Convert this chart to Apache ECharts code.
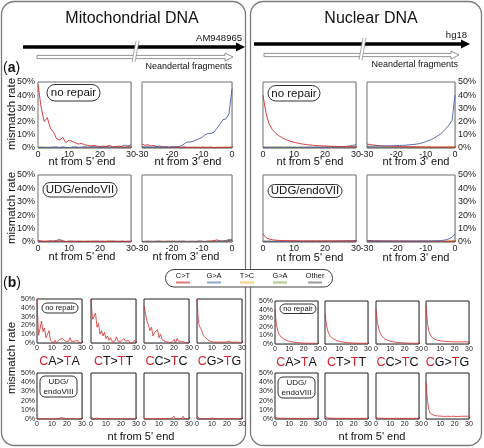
<!DOCTYPE html>
<html><head><meta charset="utf-8">
<script src="https://cdn.jsdelivr.net/npm/echarts@6/dist/echarts.min.js"></script>
<style>html,body{margin:0;padding:0;background:#fff}#c{width:484px;height:448px}</style>
</head><body><div id="c"></div>
<script>
// ---------- x positions ----------
const nt5 = [0,1,2,3,4,5,6,7,8,9,10,11,12,13,14,15,16,17,18,19,20,21,22,23,24,25,26,27,28,29,30];
const nt3 = [-30,-29,-28,-27,-26,-25,-24,-23,-22,-21,-20,-19,-18,-17,-16,-15,-14,-13,-12,-11,-10,-9,-8,-7,-6,-5,-4,-3,-2,-1,0];
const xTicksA5 = [0,10,20,30];
const xTicksA3 = [-30,-20,-10,0];
const yTicks = ['0%','10%','20%','30%','40%','50%'];
const legendNames = ['C>T','G>A','T>C','G>A','Other'];
const contexts = [['C','A','T','A'],['C','T','T','T'],['C','C','T','C'],['C','G','T','G']];

// ---------- panel (a): mitochondrial, no repair ----------
const mtNR5_CT = [48,31,20,23,15,12,7,6,8,4,6,5,4,3,3.5,2.5,2,1.5,2,1.5,1,1.5,1,2,1,1,1.5,1,0.5,1,1];
const mtNR5_GA = [0.4,0.6,0.5,0.3,0.6,0.8,0.4,0.5,0.7,0.4,0.3,0.6,0.9,0.5,0.6,1,0.5,0.8,1.2,0.6,0.5,0.8,1.4,1,0.5,1,0.8,1.2,2.2,1.5,2.5];
const mtNR5_TC = [0.8,0.5,0.3,0.6,0.4,0.2,0.5,0.3,0.6,0.4,0.3,0.2,0.5,0.3,0.4,0.6,0.3,0.5,0.2,0.4,0.6,0.3,0.5,0.4,0.2,0.5,0.3,0.6,0.4,0.3,0.5];
const mtNR5_AG = [0.5,0.3,0.6,0.4,0.2,0.5,0.7,0.3,0.4,0.6,0.3,0.5,0.2,0.4,0.3,0.5,0.6,0.3,0.4,0.2,0.5,0.3,0.6,0.4,0.3,0.5,0.4,0.3,0.6,0.4,0.3];
const mtNR5_OT = [0.3,0.4,0.2,0.5,0.3,0.4,0.6,0.3,0.5,0.2,0.4,0.3,0.5,0.4,0.2,0.3,0.5,0.4,0.3,0.6,0.4,0.3,0.5,0.2,0.4,0.6,0.3,0.4,0.3,0.5,0.4];
const mtNR3_CT = [3,2,2.5,1.5,2,1,1.5,0.8,1,0.5,0.8,0.5,0.6,0.5,0.8,0.5,0.4,0.6,0.5,0.4,0.5,0.6,0.4,0.5,0.3,0.5,0.4,0.3,0.5,0.4,0.5];
const mtNR3_GA = [1,0.8,1,0.5,0.8,1,0.6,0.8,1,0.5,1,0.8,1.2,1.5,3,4.5,4.5,5,6,7,8,10,11,11,12,15,18,21.5,22,26,45];
const mtNR3_TC = [0.4,0.6,0.3,0.5,0.4,0.2,0.5,0.6,0.3,0.4,0.5,0.3,0.6,0.4,0.2,0.5,0.3,0.4,0.6,0.3,0.5,0.4,0.3,0.6,0.4,0.5,0.3,0.4,0.6,0.5,0.8];
const mtNR3_AG = [0.3,0.5,0.4,0.2,0.6,0.4,0.3,0.5,0.4,0.6,0.3,0.5,0.2,0.4,0.6,0.3,0.5,0.4,0.3,0.5,0.6,0.4,0.3,0.5,0.4,0.3,0.5,0.6,0.4,0.3,0.5];
const mtNR3_OT = [0.5,0.3,0.4,0.6,0.3,0.5,0.4,0.2,0.5,0.3,0.4,0.6,0.4,0.3,0.5,0.4,0.6,0.3,0.4,0.5,0.3,0.4,0.6,0.5,0.3,0.4,0.5,0.3,0.6,0.4,0.7];
// ---------- panel (a): mitochondrial, UDG/endoVII ----------
const mtUDG5_CT = [1.2,0.8,0.6,0.5,0.8,0.6,0.5,0.7,0.5,0.4,0.6,0.5,0.4,0.6,0.5,0.4,0.5,0.6,0.4,0.5,0.4,0.6,0.5,0.4,0.5,0.4,0.6,0.4,0.5,0.4,0.5];
const mtUDG5_GA = [0.4,0.5,0.3,0.4,0.6,0.4,0.5,0.8,0.4,0.3,0.5,0.4,0.6,0.3,0.4,0.5,0.3,0.4,0.5,0.6,0.4,0.3,0.5,0.4,0.6,0.5,0.4,0.5,0.3,0.6,0.5];
const mtUDG5_TC = [0.6,0.3,0.5,0.8,0.4,0.3,0.6,0.4,0.9,0.3,0.5,0.4,0.3,0.6,0.5,0.3,0.8,0.4,0.5,0.3,0.6,0.4,0.3,0.9,0.5,0.4,0.3,0.6,0.4,0.3,0.5];
const mtUDG5_AG = [0.3,0.5,0.4,0.3,0.5,0.6,0.3,0.4,0.5,0.3,0.4,0.6,0.3,0.5,0.4,0.3,0.5,0.4,0.6,0.3,0.4,0.5,0.3,0.4,0.5,0.6,0.3,0.4,0.5,0.3,0.4];
const mtUDG5_OT = [0.3,0.4,0.3,0.5,0.4,0.6,1.2,2,0.8,0.4,0.3,0.5,0.4,0.3,0.4,0.5,0.3,0.4,0.3,0.5,0.4,0.3,0.4,0.5,0.3,0.4,0.3,0.5,0.4,0.3,0.4];
const mtUDG3_CT = [0.5,0.4,0.6,0.5,0.4,0.5,0.6,0.4,0.5,0.4,0.6,0.5,0.4,0.5,0.6,0.4,0.5,0.4,0.5,0.6,0.5,0.4,0.6,0.8,1,1.6,0.8,0.5,0.6,0.8,1];
const mtUDG3_GA = [0.4,0.5,0.3,0.5,0.4,0.6,0.4,0.3,0.5,0.4,0.5,0.3,0.4,0.6,0.5,0.4,0.3,0.5,0.4,0.6,0.5,0.4,0.5,0.3,0.4,0.5,0.6,0.5,0.8,1,1.4];
const mtUDG3_TC = [0.4,0.3,0.6,0.4,0.3,0.5,0.4,0.7,0.3,0.5,0.4,0.3,0.6,0.4,0.5,0.3,0.4,0.6,0.3,0.5,0.4,0.3,0.5,0.6,0.4,0.3,0.5,0.4,0.3,0.5,0.4];
const mtUDG3_AG = [0.3,0.4,0.5,0.3,0.4,0.3,0.5,0.4,0.3,0.5,0.4,0.6,0.3,0.4,0.3,0.5,0.4,0.3,0.5,0.4,0.3,0.4,0.5,0.3,0.4,0.5,0.3,0.4,0.5,0.4,0.3];
const mtUDG3_OT = [0.3,0.4,0.3,0.4,0.5,0.3,0.4,0.3,0.5,0.4,0.3,0.4,0.5,0.3,0.4,0.3,0.5,0.4,0.3,0.4,0.5,0.3,0.4,0.3,0.5,0.4,0.6,0.8,1.2,1.8,2];
// ---------- panel (a): nuclear, no repair ----------
const nuNR5_CT = [40,26,18,14,11.5,9.5,8,6.8,5.8,5,4.3,3.8,3.3,2.9,2.6,2.3,2.1,1.9,1.7,1.6,1.5,1.4,1.3,1.2,1.2,1.1,1.1,1,1,1,1];
const nuNR5_GA = [0.6,0.5,0.6,0.6,0.5,0.6,0.6,0.5,0.6,0.6,0.6,0.5,0.6,0.6,0.6,0.7,0.6,0.7,0.7,0.7,0.8,0.7,0.8,0.9,0.9,1,1.1,1.3,1.6,2,2.6];
const nuNR5_TC = [0.7,0.6,0.6,0.6,0.6,0.5,0.6,0.6,0.5,0.6,0.6,0.5,0.6,0.5,0.6,0.6,0.5,0.6,0.5,0.6,0.5,0.6,0.5,0.6,0.5,0.6,0.5,0.6,0.5,0.6,0.6];
const nuNR5_AG = [0.5,0.5,0.4,0.5,0.5,0.4,0.5,0.4,0.5,0.5,0.4,0.5,0.4,0.5,0.4,0.5,0.4,0.5,0.4,0.5,0.4,0.5,0.4,0.5,0.4,0.5,0.4,0.5,0.4,0.5,0.5];
const nuNR5_OT = [0.4,0.3,0.4,0.3,0.4,0.3,0.4,0.3,0.4,0.3,0.4,0.3,0.4,0.3,0.4,0.3,0.4,0.3,0.4,0.3,0.4,0.3,0.4,0.3,0.4,0.3,0.4,0.3,0.4,0.3,0.4];
const nuNR3_CT = [3,2.6,2.3,2,1.8,1.6,1.5,1.4,1.3,1.2,1.1,1.1,1,1,1,0.9,0.9,0.9,0.8,0.8,0.8,0.8,0.8,0.7,0.7,0.7,0.7,0.7,0.6,0.6,0.6];
const nuNR3_GA = [1.3,1.3,1.4,1.4,1.4,1.5,1.5,1.6,1.6,1.7,1.8,1.9,2,2.1,2.3,2.5,2.7,3,3.4,4,4.8,5.6,6.5,7.7,9,10.5,12.5,15,17.5,21,40];
const nuNR3_TC = [0.7,0.7,0.6,0.7,0.6,0.7,0.6,0.7,0.6,0.7,0.6,0.7,0.6,0.7,0.6,0.7,0.6,0.7,0.6,0.7,0.6,0.7,0.6,0.7,0.6,0.7,0.7,0.8,0.8,0.9,1];
const nuNR3_AG = [0.5,0.4,0.5,0.4,0.5,0.4,0.5,0.4,0.5,0.4,0.5,0.4,0.5,0.4,0.5,0.4,0.5,0.4,0.5,0.4,0.5,0.4,0.5,0.4,0.5,0.4,0.5,0.4,0.5,0.5,0.6];
const nuNR3_OT = [0.3,0.4,0.3,0.4,0.3,0.4,0.3,0.4,0.3,0.4,0.3,0.4,0.3,0.4,0.3,0.4,0.3,0.4,0.3,0.4,0.3,0.4,0.3,0.4,0.3,0.4,0.3,0.4,0.4,0.4,0.5];
// ---------- panel (a): nuclear, UDG/endoVII ----------
const nuUDG5_CT = [6,3.2,2.2,1.7,1.4,1.2,1.1,1,1,0.9,0.9,0.9,0.8,0.8,0.8,0.8,0.8,0.8,0.8,0.8,0.8,0.8,0.8,0.8,0.8,0.8,0.8,0.8,0.8,0.8,0.8];
const nuUDG5_GA = [0.6,0.5,0.6,0.5,0.6,0.5,0.6,0.5,0.6,0.5,0.6,0.5,0.6,0.5,0.6,0.5,0.6,0.5,0.6,0.5,0.6,0.6,0.6,0.6,0.7,0.7,0.7,0.8,0.8,0.9,1];
const nuUDG5_TC = [0.8,0.7,0.6,0.6,0.6,0.5,0.6,0.5,0.6,0.5,0.6,0.5,0.6,0.5,0.6,0.5,0.6,0.5,0.6,0.5,0.6,0.5,0.6,0.5,0.6,0.5,0.6,0.5,0.6,0.5,0.6];
const nuUDG5_AG = [0.5,0.4,0.5,0.4,0.5,0.4,0.5,0.4,0.5,0.4,0.5,0.4,0.5,0.4,0.5,0.4,0.5,0.4,0.5,0.4,0.5,0.4,0.5,0.4,0.5,0.4,0.5,0.4,0.5,0.4,0.5];
const nuUDG5_OT = [0.3,0.4,0.3,0.4,0.3,0.4,0.3,0.4,0.3,0.4,0.3,0.4,0.3,0.4,0.3,0.4,0.3,0.4,0.3,0.4,0.3,0.4,0.3,0.4,0.3,0.4,0.3,0.4,0.3,0.4,0.3];
const nuUDG3_CT = [1.2,1.1,1,0.9,0.9,0.8,0.8,0.8,0.7,0.7,0.7,0.7,0.7,0.7,0.6,0.6,0.6,0.6,0.6,0.6,0.6,0.6,0.6,0.6,0.6,0.6,0.6,0.6,0.6,0.6,0.6];
const nuUDG3_GA = [0.7,0.7,0.7,0.7,0.7,0.7,0.7,0.7,0.7,0.7,0.7,0.7,0.7,0.7,0.7,0.7,0.7,0.7,0.7,0.8,0.8,0.8,0.8,0.9,0.9,1,1.3,1.7,2.4,3.5,6];
const nuUDG3_TC = [0.6,0.5,0.6,0.5,0.6,0.5,0.6,0.5,0.6,0.5,0.6,0.5,0.6,0.5,0.6,0.5,0.6,0.5,0.6,0.5,0.6,0.5,0.6,0.5,0.6,0.5,0.6,0.6,0.7,0.8,0.9];
const nuUDG3_AG = [0.5,0.4,0.5,0.4,0.5,0.4,0.5,0.4,0.5,0.4,0.5,0.4,0.5,0.4,0.5,0.4,0.5,0.4,0.5,0.4,0.5,0.4,0.5,0.4,0.5,0.4,0.5,0.4,0.5,0.5,0.6];
const nuUDG3_OT = [0.3,0.4,0.3,0.4,0.3,0.4,0.3,0.4,0.3,0.4,0.3,0.4,0.3,0.4,0.3,0.4,0.3,0.4,0.3,0.4,0.3,0.4,0.3,0.4,0.3,0.4,0.3,0.4,0.3,0.4,0.4];

// ---------- panel (b): C>T by context, 5' end ----------
const bmtNR_CA = [50,9,16,25,13,17,6,8,14,3,5,0,3,0,2,4,2,5,3,2,4,2,6,2,0,2,0,3,0,2,0];
const bmtNR_CT = [50,27,30,34,18,22,10,14,8,12,5,8,3,6,2,4,2,7,2,4,2,0,5,2,0,3,0,2,0,3,0];
const bmtNR_CC = [42,33,25,20,14,18,8,12,10,15,6,10,4,6,2,4,1,3,0,2,4,0,5,2,0,2,0,1,0,0,0];
const bmtNR_CG = [50,22,18,15,10,7,5,4,3,2,2,1,1,1,2,1,0.5,1,0.5,1,1,2,3,1,0.5,1,0.5,1,0.5,0.5,0.5];
const bnuNR_CA = [40,22,15,11,8.5,7,6,5,4.2,3.6,3.1,2.7,2.4,2.1,1.9,1.7,1.5,1.4,1.3,1.2,1.1,1,1,1,0.9,0.9,0.9,0.9,0.8,0.8,0.8];
const bnuNR_CT = [35,22,15,11,8.5,7,5.8,4.9,4.2,3.6,3.1,2.7,2.4,2.1,1.9,1.7,1.5,1.4,1.3,1.2,1.1,1,1,1,0.9,0.9,0.9,0.9,0.8,0.8,0.8];
const bnuNR_CC = [40,25,17,12.5,9.5,7.5,6.2,5.2,4.4,3.8,3.3,2.9,2.5,2.2,2,1.8,1.6,1.5,1.4,1.3,1.2,1.1,1.1,1,1,1,0.9,0.9,0.9,0.9,0.9];
const bnuNR_CG = [45,24,15,10.5,8,6.5,5.5,5,4.5,4,3.8,3.5,3.3,3.1,3,2.8,2.8,2.6,2.6,2.5,2.5,2.9,2.5,2.5,2.4,2.4,2.5,2.3,2.5,2.3,2.3];
const bmtUDG_CA = [0.5,0.3,0.2,0.3,0.2,0.3,0.2,0.3,0.2,0.3,0.2,0.3,0.2,0.3,0.2,0.5,1.5,2.5,1,0.3,0.2,0.3,0.2,0.3,0.2,0.3,0.2,0.3,0.2,0.3,0.2];
const bmtUDG_CT = [2,1,0.3,0.2,1,0.3,0.2,0.3,0.2,0.3,0.2,0.3,0.2,0.3,0.2,0.3,0.2,0.3,0.2,0.3,0.2,0.3,0.2,0.3,0.2,0.3,0.2,0.3,0.2,0.3,0.2];
const bmtUDG_CC = [0.3,0.2,0.3,0.2,0.3,0.2,0.3,0.2,0.3,0.2,0.3,0.2,0.3,0.2,0.3,0.2,0.3,0.2,0.5,1.5,3,0.5,0.3,0.2,0.3,0.5,3,0.5,0.3,0.2,0.3];
const bmtUDG_CG = [3,1,0.3,0.2,0.3,0.2,0.3,0.2,0.3,0.5,1,0.5,0.3,0.2,0.3,0.2,0.3,0.2,0.3,0.2,0.3,0.2,0.3,0.2,0.3,0.2,0.3,0.2,0.3,0.2,0.3];
const bnuUDG_CA = [2,1.2,1,0.9,0.8,0.8,0.8,0.7,0.7,0.7,0.7,0.7,0.7,0.7,0.7,0.7,0.7,0.7,0.7,0.7,0.7,0.7,0.7,0.7,0.7,0.7,0.7,0.7,0.7,0.7,0.7];
const bnuUDG_CT = [3,1.5,1.1,1,0.9,0.8,0.8,0.8,0.7,0.7,0.7,0.7,0.7,0.7,0.7,0.7,0.7,0.7,0.7,0.7,0.7,0.7,0.7,0.7,0.7,0.7,0.7,0.7,0.7,0.7,0.7];
const bnuUDG_CC = [1.5,1,0.9,0.8,0.8,0.7,0.7,0.7,0.7,0.7,0.7,0.7,0.7,0.7,0.7,0.7,0.7,0.7,0.7,0.7,0.7,0.7,0.7,0.7,0.7,0.7,0.7,0.7,0.7,0.7,0.7];
const bnuUDG_CG = [40,20,10,6,5,4.5,4,3.5,3.5,3.2,3,3,3,2.8,2.8,3,2.8,2.8,2.8,3,3,2.8,3,2.8,3,3,2.8,3,3.2,3,3];

// ---------- build ----------
const FONT = "'Liberation Sans', Arial, Helvetica, sans-serif";
const COL = {CT:'#d42a2a', GA:'#4a5fa8', TC:'#e6b422', AG:'#8aa860', OT:'#6a6a6a'};
const LEGCOL = ['#e07a7a','#8ea6cc','#f2d27a','#b5c98f','#9a9a9a'];
const grids=[], xAxes=[], yAxes=[], series=[];

function addPlot(p){
  const i = grids.length;
  grids.push({left:p.left, top:p.top, width:p.width, height:p.height, show:true,
    borderColor:p.border, borderWidth:1, backgroundColor:'#fff', containLabel:false, z:1});
  xAxes.push({gridIndex:i, type:'value', min:p.xs[0], max:p.xs[p.xs.length-1], interval:p.xInt,
    axisLine:{show:false}, axisTick:{show:true, inside:true, length:2, lineStyle:{color:'#666', width:0.8}},
    splitLine:{show:true, lineStyle:{color:'#d8d8d8', width:0.8}},
    axisLabel:{fontSize:p.fs, fontFamily:FONT, color:'#222', margin:p.xm,
      formatter: v => (p.ticks.indexOf(v) >= 0 ? String(v) : '')}});
  yAxes.push({gridIndex:i, type:'value', min:0, max:50, interval:10, position:p.ypos || 'left',
    axisLine:{show:false}, axisTick:{show:false},
    splitLine:{show:true, lineStyle:{color:'#d8d8d8', width:0.8}},
    axisLabel:{show:!!p.ypos, fontSize:p.fs, fontFamily:FONT, color:'#222', margin:p.ym,
      formatter: v => yTicks[v/10]}});
  p.lines.forEach(l => series.push({type:'line', xAxisIndex:i, yAxisIndex:i,
    data: p.xs.map((x,k)=>[x, l[0][k]]), showSymbol:false, symbol:'none',
    lineStyle:{color:l[1], width:p.lw}, silent:true, animation:false, z:3}));
}

// panel (a)
const aRows = [{top:82, height:66}, {top:175, height:67}];
const aSets = [
  [[mtNR5_TC,COL.TC],[mtNR5_AG,COL.AG],[mtNR5_OT,COL.OT],[mtNR5_GA,COL.GA],[mtNR5_CT,COL.CT]],
  [[mtNR3_TC,COL.TC],[mtNR3_AG,COL.AG],[mtNR3_OT,COL.OT],[mtNR3_CT,COL.CT],[mtNR3_GA,COL.GA]],
  [[nuNR5_TC,COL.TC],[nuNR5_AG,COL.AG],[nuNR5_OT,COL.OT],[nuNR5_GA,COL.GA],[nuNR5_CT,COL.CT]],
  [[nuNR3_TC,COL.TC],[nuNR3_AG,COL.AG],[nuNR3_OT,COL.OT],[nuNR3_CT,COL.CT],[nuNR3_GA,COL.GA]],
  [[mtUDG5_TC,COL.TC],[mtUDG5_AG,COL.AG],[mtUDG5_OT,COL.OT],[mtUDG5_GA,COL.GA],[mtUDG5_CT,COL.CT]],
  [[mtUDG3_TC,COL.TC],[mtUDG3_AG,COL.AG],[mtUDG3_CT,COL.CT],[mtUDG3_GA,COL.GA],[mtUDG3_OT,COL.OT]],
  [[nuUDG5_TC,COL.TC],[nuUDG5_AG,COL.AG],[nuUDG5_OT,COL.OT],[nuUDG5_GA,COL.GA],[nuUDG5_CT,COL.CT]],
  [[nuUDG3_TC,COL.TC],[nuUDG3_AG,COL.AG],[nuUDG3_OT,COL.OT],[nuUDG3_CT,COL.CT],[nuUDG3_GA,COL.GA]]
];
const aCols = [
  {left:38, width:93, xs:nt5, ticks:xTicksA5, ypos:'left'},
  {left:142, width:90, xs:nt3, ticks:xTicksA3, ypos:null},
  {left:263, width:93, xs:nt5, ticks:xTicksA5, ypos:null},
  {left:367, width:88, xs:nt3, ticks:xTicksA3, ypos:'right'}
];
for (let r=0;r<2;r++) for (let c=0;c<4;c++){
  const col = aCols[c];
  addPlot({left:col.left, width:col.width, top:aRows[r].top, height:aRows[r].height,
    xs:col.xs, ticks:col.ticks, xInt:5, ypos:col.ypos, fs:9, xm:2, ym:3,
    border:'#707070', lw:0.9, lines:aSets[r*4+c]});
}

// panel (b)
const bSets = [
  [bmtNR_CA,bmtNR_CT,bmtNR_CC,bmtNR_CG],
  [bnuNR_CA,bnuNR_CT,bnuNR_CC,bnuNR_CG],
  [bmtUDG_CA,bmtUDG_CT,bmtUDG_CC,bmtUDG_CG],
  [bnuUDG_CA,bnuUDG_CT,bnuUDG_CC,bnuUDG_CG]
];
const bLeftL = [37,91,144,197], bLeftR = [275,325,376,426];
const bRowsL = [{top:299,height:44},{top:373,height:46}];
const bRowsR = [{top:301,height:43},{top:373,height:46}];
for (let r=0;r<2;r++){
  for (let k=0;k<4;k++){
    addPlot({left:bLeftL[k], width:45, top:bRowsL[r].top, height:bRowsL[r].height,
      xs:nt5, ticks:[0,10,20,30], xInt:10, ypos:k===0?'left':null, fs:7, xm:2, ym:2,
      border:'#222', lw:0.8, lines:[[bSets[r*2][k], COL.CT]]});
    addPlot({left:bLeftR[k], width:43, top:bRowsR[r].top, height:bRowsR[r].height,
      xs:nt5, ticks:[0,10,20,30], xInt:10, ypos:k===0?'left':null, fs:7, xm:2, ym:2,
      border:'#222', lw:0.8, lines:[[bSets[r*2+1][k], COL.CT]]});
  }
}

// ---------- graphic decorations ----------
const G = [];
function txt(t, x, y, size, opt){
  opt = opt || {};
  const e = {type:'text', x:x, y:y, z:opt.z||50, silent:true,
    style:{text:t, font:(opt.bold?'bold ':'')+size+'px '+FONT, fill:opt.fill||'#111',
      align:opt.align||'center', verticalAlign:'middle', rich:opt.rich, lineHeight:opt.lh}};
  if (opt.rot) e.rotation = opt.rot;
  G.push(e);
}
function rrect(x,y,w,h,r,opt){
  opt = opt||{};
  G.push({type:'rect', z:opt.z||40, silent:true, shape:{x:x,y:y,width:w,height:h,r:r},
    style:{fill:opt.fill||'#fff', stroke:opt.stroke||'#333', lineWidth:opt.lw||1}});
}
// outer boxes
G.push({type:'rect', z:-100, silent:true, shape:{x:1.5,y:1.5,width:244,height:444,r:13}, style:{fill:'#fff', stroke:'#7a7a7a', lineWidth:1.3}});
G.push({type:'rect', z:-100, silent:true, shape:{x:250.5,y:1.5,width:231,height:444,r:13}, style:{fill:'#fff', stroke:'#7a7a7a', lineWidth:1.3}});
// titles
txt('Mitochondrial DNA', 132, 19, 16);
txt('Nuclear DNA', 371, 19, 16);
// arrows
function arrows(x0, x1, y, hx0, hx1, hy, brk, refText, refY){
  G.push({type:'line', z:20, silent:true, shape:{x1:x0,y1:y,x2:x1-7,y2:y}, style:{stroke:'#000', lineWidth:3.5}});
  G.push({type:'polygon', z:20, silent:true, shape:{points:[[x1-9,y-4.5],[x1,y],[x1-9,y+4.5]]}, style:{fill:'#000'}});
  G.push({type:'polygon', z:20, silent:true, shape:{points:[[hx0,hy-1.6],[hx1-8,hy-1.6],[hx1-8,hy-4],[hx1,hy],[hx1-8,hy+4],[hx1-8,hy+1.6],[hx0,hy+1.6]]},
    style:{fill:'#fff', stroke:'#777', lineWidth:0.8}});
  G.push({type:'polygon', z:21, silent:true, shape:{points:[[brk-3,hy+5],[brk,hy+5],[brk+4,y-6],[brk+1,y-6]]}, style:{fill:'#fff'}});
  G.push({type:'line', z:22, silent:true, shape:{x1:brk-3,y1:hy+5,x2:brk+1,y2:y-6}, style:{stroke:'#888', lineWidth:0.7}});
  G.push({type:'line', z:22, silent:true, shape:{x1:brk,y1:hy+5,x2:brk+4,y2:y-6}, style:{stroke:'#888', lineWidth:0.7}});
  txt(refText, x1-3, refY, 9.5, {align:'right'});
  txt('Neandertal fragments', hx1-1, hy+10, 9, {align:'right'});
}
arrows(23, 245, 47, 37, 233, 57, 135, 'AM948965', 38);
arrows(254, 470, 44, 264, 459, 55, 362, 'hg18', 35);
// panel letters
txt('({b|a})', 3, 68, 14, {align:'left', rich:{b:{font:'bold 14px '+FONT, fill:'#111'}}});
txt('({b|b})', 3, 283, 14, {align:'left', rich:{b:{font:'bold 14px '+FONT, fill:'#111'}}});
// y titles
txt('mismatch rate', 12, 114, 11.5, {rot:Math.PI/2});
txt('mismatch rate', 12, 208, 11.5, {rot:Math.PI/2});
txt('mismatch rate', 12, 358, 11.5, {rot:Math.PI/2});
// x titles (a)
[[82,162],[188,162],[310,162],[416,162],[82,257],[186,257],[310,258],[416,258]].forEach((p,i)=>{
  txt(i%2===0 ? "nt from 5' end" : "nt from 3' end", p[0], p[1], 11);
});
// x titles (b)
txt("nt from 5' end", 141, 437, 11);
txt("nt from 5' end", 372, 437, 11);
// label boxes (a)
rrect(47,84.5,53,16.5,8); txt('no repair', 73.5, 93, 11.5, {z:41});
rrect(268,85.5,52,15.5,8); txt('no repair', 294, 93.5, 11.5, {z:41});
rrect(43,182.5,74,14.5,7); txt('UDG/endoVII', 80, 190, 11.5, {z:41});
rrect(268,184.5,74,13,6.5); txt('UDG/endoVII', 305, 191, 11.5, {z:41});
// label boxes (b)
rrect(42,303,36,10,5); txt('no repair', 60, 308.2, 7.5, {z:41});
rrect(280,304,36,9.5,4.7); txt('no repair', 298, 309, 7.5, {z:41});
rrect(40,376,37,21,5); txt('UDG/\nendoVIII', 58.5, 386.5, 8, {z:41, lh:10});
rrect(278,377,37,21,5); txt('UDG/\nendoVIII', 296.5, 387.5, 8, {z:41, lh:10});
// context labels (b)
const ctxRich = {r:{font:'12.5px '+FONT, fill:'#d8232a'}, k:{font:'12.5px '+FONT, fill:'#111'}};
contexts.forEach((c,k)=>{
  const t = '{r|'+c[0]+'}{k|'+c[1]+'>}{r|'+c[2]+'}{k|'+c[3]+'}';
  txt(t, bLeftL[k]+22.5, 362, 12.5, {rich:ctxRich});
  txt(t, bLeftR[k]+21.5, 363, 12.5, {rich:ctxRich});
});
// legend
rrect(165.5,269.5,167,17.5,8.5,{z:60, stroke:'#444', lw:1});
const legX = [183,214,247,280,315];
legendNames.forEach((n,k)=>{
  txt(n, legX[k], 275.5, 7.5, {z:61});
  G.push({type:'line', z:61, silent:true, shape:{x1:legX[k]-7,y1:282.5,x2:legX[k]+7,y2:282.5}, style:{stroke:LEGCOL[k], lineWidth:2}});
});

const chart = echarts.init(document.getElementById('c'), null, {renderer:'canvas', width:484, height:448});
chart.setOption({
  animation:false,
  backgroundColor:'#fff',
  grid:grids, xAxis:xAxes, yAxis:yAxes, series:series,
  graphic:{elements:G}
});
</script>
</body></html>
